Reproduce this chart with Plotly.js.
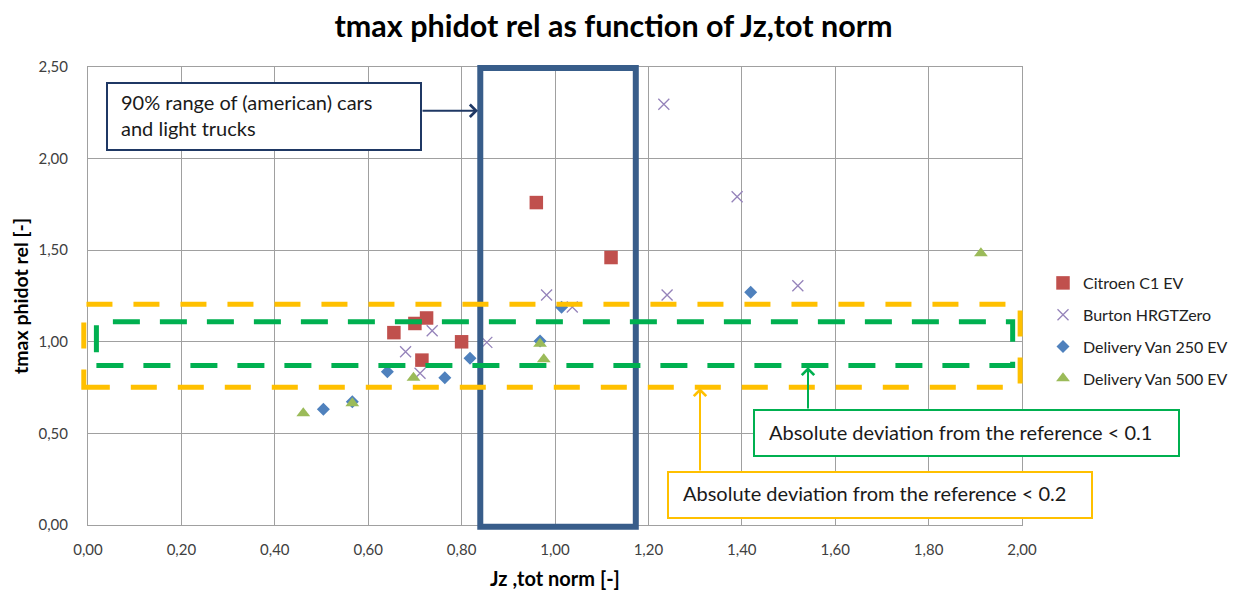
<!DOCTYPE html>
<html>
<head>
<meta charset="utf-8">
<script src="https://cdn.plot.ly/plotly-3.0.1.min.js"></script>
<style>html,body{margin:0;padding:0;background:#fff;}#chart{width:1242px;height:590px;}</style>
</head>
<body>
<div id="chart"></div>
<script>
// ---- data ----
const seriesNames = ["Citroen C1 EV", "Burton HRGTZero", "Delivery Van 250 EV", "Delivery Van 500 EV"];

const citroenX = [0.96, 1.12, 0.655, 0.70, 0.725, 0.80, 0.715];
const citroenY = [1.76, 1.46, 1.05, 1.10, 1.13, 1.00, 0.90];

const burtonX = [1.233, 1.39, 1.52, 1.24, 0.982, 1.037, 0.737, 0.68, 0.711, 0.854];
const burtonY = [2.297, 1.792, 1.306, 1.255, 1.255, 1.19, 1.06, 0.946, 0.828, 0.997];

const van250X = [0.504, 0.566, 0.641, 0.764, 0.818, 1.014, 0.968, 1.419];
const van250Y = [0.632, 0.673, 0.837, 0.804, 0.91, 1.188, 1.004, 1.27];

const van500X = [0.461, 0.566, 0.697, 0.968, 0.976, 1.912];
const van500Y = [0.61, 0.664, 0.804, 0.99, 0.905, 1.483];

// reference bands and typical range (data units)
const carRangeX = [0.84, 1.173];
const band02 = [0.752, 1.205];
const band01 = [0.87, 1.11];

const titleText = "tmax phidot rel as function of Jz,tot norm";
const xTitle = "Jz ,tot norm [-]";
const yTitle = "tmax phidot rel [-]";
const boxText1 = ["90% range of (american) cars", "and light trucks"];
const boxText2 = "Absolute deviation from the reference < 0.1";
const boxText3 = "Absolute deviation from the reference < 0.2";

// ---- layout helpers ----
const xr = [0, 2], yr = [0, 2.5];
const M = {l: 88, r: 220, t: 67, b: 65};
const W = 1242, H = 590;
const PW = W - M.l - M.r, PH = H - M.t - M.b;
const xp = v => (v - xr[0]) / (xr[1] - xr[0]);
const yp = v => (v - yr[0]) / (yr[1] - yr[0]);
const px = x => (x - M.l) / PW;
const py = y => (H - M.b - y) / PH;

const FONT = "Lato, 'Open Sans', sans-serif";

function tr(x, y, name, group, marker) {
  return {x: x, y: y, name: name, legendgroup: group, type: "scatter", mode: "markers", marker: marker, hoverinfo: "x+y+name"};
}
const traces = [
  tr(citroenX, citroenY, seriesNames[0], "g1", {symbol: "square", size: 13.5, color: "#C0504D", line: {width: 0}}),
  tr(burtonX, burtonY, seriesNames[1], "g2", {symbol: "x-thin-open", size: 11, color: "#9583BA", line: {width: 1.3, color: "#9583BA"}}),
  tr(van250X, van250Y, seriesNames[2], "g3", {symbol: "diamond", size: 10, color: "#4F81BD", line: {width: 0}}),
  tr(van500X, van500Y, seriesNames[3], "g4", {symbol: "triangle-up", size: 12, color: "#9BBB59", line: {width: 0}})
];

const shapes = [
  // 90% range box
  {type: "rect", xref: "paper", yref: "paper", x0: xp(carRangeX[0]), x1: xp(carRangeX[1]), y0: yp(-0.01), y1: yp(2.495),
   line: {color: "#385D8A", width: 6}, fillcolor: "rgba(0,0,0,0)", layer: "above"},
  // 0.2 band
  {type: "rect", xref: "paper", yref: "paper", x0: xp(-0.009), x1: xp(1.996), y0: yp(band02[0]), y1: yp(band02[1]),
   line: {color: "#FFC000", width: 5, dash: "26px,21px"}, fillcolor: "rgba(0,0,0,0)", layer: "above"},
  // 0.1 band
  {type: "rect", xref: "paper", yref: "paper", x0: xp(0.018), x1: xp(1.98), y0: yp(band01[0]), y1: yp(band01[1]),
   line: {color: "#00B050", width: 5, dash: "27px,20px"}, fillcolor: "rgba(0,0,0,0)", layer: "above"},
  // text boxes
  {type: "rect", xref: "paper", yref: "paper", x0: px(107), x1: px(421), y0: py(150), y1: py(83),
   line: {color: "#1F3864", width: 2}, fillcolor: "#FFFFFF", layer: "above"},
  {type: "rect", xref: "paper", yref: "paper", x0: px(754), x1: px(1179), y0: py(456), y1: py(410),
   line: {color: "#00B050", width: 2}, fillcolor: "#FFFFFF", layer: "above"},
  {type: "rect", xref: "paper", yref: "paper", x0: px(668), x1: px(1092), y0: py(518), y1: py(472),
   line: {color: "#FFC000", width: 2}, fillcolor: "#FFFFFF", layer: "above"}
];

const txtFont = {family: FONT, size: 20, color: "#1a1a1a"};
const annotations = [
  {xref: "paper", yref: "paper", x: px(119), y: py(102), xanchor: "left", yanchor: "middle", text: boxText1[0], showarrow: false, font: txtFont},
  {xref: "paper", yref: "paper", x: px(119), y: py(128), xanchor: "left", yanchor: "middle", text: boxText1[1], showarrow: false, font: txtFont},
  {xref: "paper", yref: "paper", x: px(767), y: py(432), xanchor: "left", yanchor: "middle", text: boxText2, showarrow: false, font: txtFont},
  {xref: "paper", yref: "paper", x: px(681), y: py(493), xanchor: "left", yanchor: "middle", text: boxText3, showarrow: false, font: txtFont},
  // arrows
  {xref: "paper", yref: "paper", x: px(478), y: py(110.7), ax: -57, ay: 0, text: "", showarrow: true, arrowhead: 4, arrowsize: 1.2, arrowwidth: 2, arrowcolor: "#1F3864"},
  {xref: "paper", yref: "paper", x: px(808), y: py(367), ax: 0, ay: 43, text: "", showarrow: true, arrowhead: 4, arrowsize: 1.2, arrowwidth: 2, arrowcolor: "#00B050"},
  {xref: "paper", yref: "paper", x: px(700), y: py(388), ax: 0, ay: 84, text: "", showarrow: true, arrowhead: 4, arrowsize: 1.2, arrowwidth: 2, arrowcolor: "#FFC000"}
];

const layout = {
  width: W, height: H,
  margin: {l: M.l, r: M.r, t: M.t, b: M.b, autoexpand: false},
  paper_bgcolor: "#FFFFFF", plot_bgcolor: "#FFFFFF",
  separators: ",.",
  font: {family: FONT, color: "#404040", size: 15},
  title: {text: "<b>" + titleText + "</b>", x: 0.494, xanchor: "center", y: 1 - 26 / H, yanchor: "middle",
          font: {family: FONT, size: 30.5, color: "#000000"}},
  xaxis: {range: xr, dtick: 0.2, tick0: 0, tickformat: ".2f", showgrid: true, gridcolor: "#A0A0A0", gridwidth: 1,
          showline: true, linecolor: "#A0A0A0", linewidth: 1, mirror: true, zeroline: false, ticks: "", ticklabelstandoff: 11,
          tickfont: {family: FONT, size: 15, color: "#404040"},
          title: {text: "<b>" + xTitle + "</b>", standoff: 14, font: {family: FONT, size: 20, color: "#000000"}}},
  yaxis: {range: yr, dtick: 0.5, tick0: 0, tickformat: ".2f", showgrid: true, gridcolor: "#A0A0A0", gridwidth: 1,
          showline: true, linecolor: "#A0A0A0", linewidth: 1, mirror: true, zeroline: false, ticks: "", ticklabelstandoff: 16,
          tickfont: {family: FONT, size: 15, color: "#404040"},
          title: {text: "<b>" + yTitle + "</b>", standoff: 4, font: {family: FONT, size: 19.5, color: "#000000"}}},
  showlegend: true,
  legend: {x: px(1043), xanchor: "left", y: py(266), yanchor: "top", tracegroupgap: 8, bgcolor: "rgba(0,0,0,0)",
           font: {family: FONT, size: 16, color: "#222222"}},
  shapes: shapes,
  annotations: annotations
};

Plotly.newPlot("chart", traces, layout, {displayModeBar: false, responsive: false});
</script>
</body>
</html>
